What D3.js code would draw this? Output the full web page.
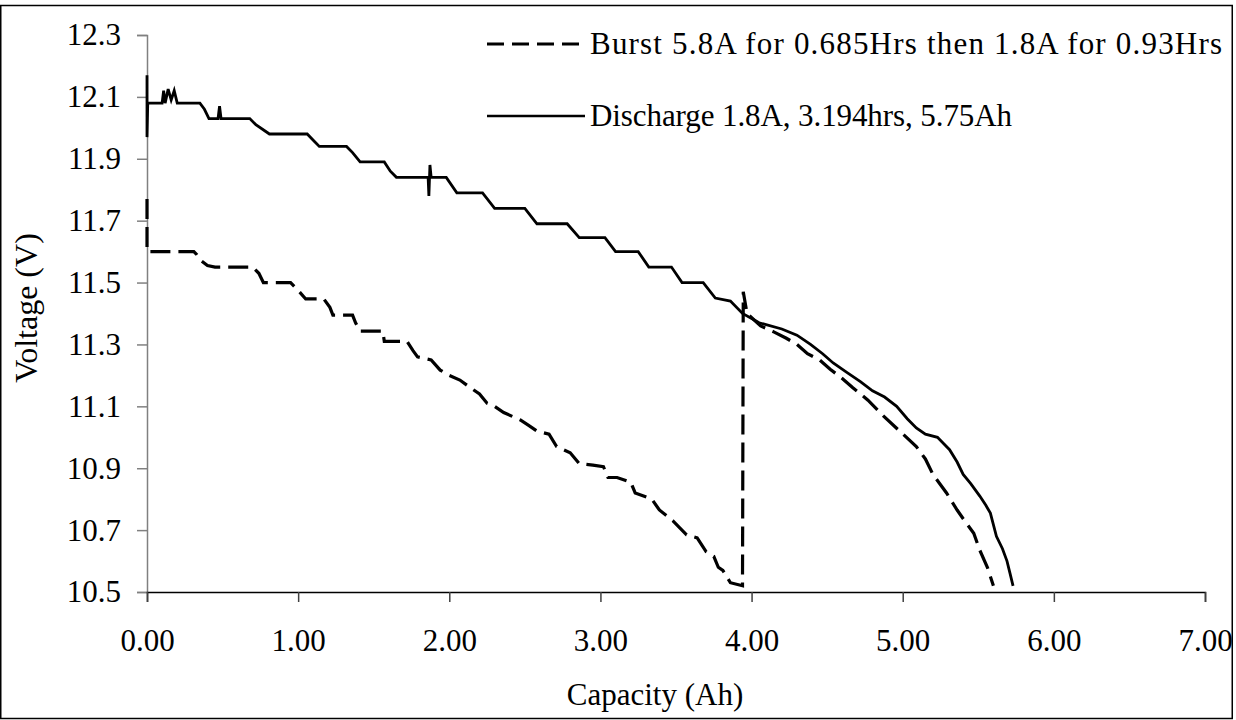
<!DOCTYPE html>
<html>
<head>
<meta charset="utf-8">
<script src="https://cdn.jsdelivr.net/npm/d3@7/dist/d3.min.js"></script>
<style>
  html, body { margin: 0; padding: 0; background: #fff; }
  svg { display: block; }
  text { font-family: "Liberation Serif", "Times New Roman", serif; fill: #000; }
</style>
</head>
<body>
<svg id="chart" width="1236" height="720"></svg>
<script>
// Tick values
const xTicks = [0, 1, 2, 3, 4, 5, 6, 7];
const yTicks = [10.5, 10.7, 10.9, 11.1, 11.3, 11.5, 11.7, 11.9, 12.1, 12.3];

// Series labels
const seriesNames = [
  "Burst 5.8A for 0.685Hrs then 1.8A for 0.93Hrs",
  "Discharge 1.8A, 3.194hrs, 5.75Ah"
];

// Burst test: capacity (Ah) and voltage (V)
const burstCap = [
  0, 0, 0.31, 0.33, 0.36, 0.40, 0.45, 0.70, 0.74, 0.77, 0.95, 0.99, 1.05, 1.17, 1.21, 1.23,
  1.36, 1.38, 1.41, 1.56, 1.57, 1.72, 1.76, 1.79, 1.88, 1.94, 2.00, 2.07, 2.14, 2.20, 2.25,
  2.30, 2.36, 2.47, 2.52, 2.58, 2.66, 2.71, 2.80, 2.86, 2.95, 3.02, 3.05, 3.11, 3.20, 3.23,
  3.34, 3.39, 3.48, 3.57, 3.64, 3.70, 3.75, 3.78, 3.81, 3.86, 3.94,
  3.945, 3.97, 4.06, 4.15, 4.23, 4.30, 4.37, 4.45, 4.52, 4.60, 4.67, 4.77, 4.87, 4.98,
  5.09, 5.15, 5.20, 5.29, 5.36, 5.41, 5.47, 5.51, 5.56, 5.60
];
const burstVolt = [
  11.77, 11.60, 11.60, 11.59, 11.57, 11.555, 11.55, 11.55, 11.53, 11.50, 11.50, 11.48, 11.447, 11.447, 11.42, 11.395,
  11.395, 11.37, 11.343, 11.343, 11.31, 11.31, 11.28, 11.26, 11.25, 11.217, 11.20, 11.185, 11.16, 11.14, 11.11,
  11.10, 11.08, 11.056, 11.04, 11.02, 11.01, 10.97, 10.95, 10.915, 10.91, 10.905, 10.87, 10.87, 10.855, 10.82,
  10.80, 10.765, 10.73, 10.685, 10.675, 10.63, 10.615, 10.58, 10.57, 10.53, 10.52,
  11.47, 11.40, 11.36, 11.34, 11.32, 11.30, 11.27, 11.25, 11.22, 11.19, 11.16, 11.12, 11.07, 11.02,
  10.97, 10.93, 10.88, 10.82, 10.765, 10.73, 10.69, 10.635, 10.58, 10.52
];

// Constant 1.8A discharge: capacity (Ah) and voltage (V)
const dischargeCap = [
  0, 0, 0, 0.005, 0.10, 0.11, 0.12, 0.14, 0.16, 0.18, 0.20, 0.35, 0.38, 0.41, 0.47, 0.48, 0.49,
  0.68, 0.72, 0.81, 1.06, 1.10, 1.14, 1.32, 1.36, 1.41, 1.57, 1.61, 1.65, 1.86, 1.865, 1.872,
  1.88, 1.98, 2.05, 2.22, 2.30, 2.50, 2.58, 2.78, 2.86, 3.03, 3.10, 3.25, 3.32, 3.47, 3.54,
  3.68, 3.76, 3.86, 3.94, 4.05, 4.20, 4.30, 4.39, 4.47, 4.54, 4.63, 4.72, 4.80, 4.88, 4.96,
  5.03, 5.09, 5.15, 5.23, 5.27, 5.31, 5.36, 5.40, 5.45, 5.51, 5.55, 5.58, 5.62, 5.66, 5.69,
  5.71, 5.73
];
const dischargeVolt = [
  12.08, 12.17, 11.97, 12.08, 12.08, 12.12, 12.08, 12.125, 12.09, 12.12, 12.08, 12.08, 12.06, 12.03, 12.03, 12.07, 12.03,
  12.03, 12.01, 11.98, 11.98, 11.96, 11.94, 11.94, 11.92, 11.89, 11.89, 11.86, 11.84, 11.84, 11.78, 11.88,
  11.84, 11.84, 11.79, 11.79, 11.74, 11.74, 11.69, 11.69, 11.645, 11.645, 11.60, 11.60, 11.55, 11.55, 11.50,
  11.50, 11.45, 11.44, 11.40, 11.37, 11.35, 11.33, 11.30, 11.27, 11.24, 11.21, 11.18, 11.15, 11.13, 11.10,
  11.06, 11.03, 11.01, 11.00, 10.98, 10.96, 10.92, 10.88, 10.85, 10.81, 10.78, 10.755, 10.68, 10.64, 10.60,
  10.56, 10.52
];

const svg = d3.select("#chart");
const plot = { left: 147, right: 1205, top: 35, bottom: 592 };

const x = d3.scaleLinear().domain([0, 7]).range([plot.left, plot.right]);
const y = d3.scaleLinear().domain([10.5, 12.3]).range([plot.bottom, plot.top]);

// Outer chart frame
svg.append("rect")
  .attr("x", 0.75).attr("y", 5.5)
  .attr("width", 1231.5).attr("height", 713)
  .attr("fill", "none").attr("stroke", "#000").attr("stroke-width", 1.5);

// Y axis
const yAxis = svg.append("g")
  .attr("transform", `translate(${plot.left},0)`)
  .call(d3.axisLeft(y).tickValues(yTicks).tickFormat(d3.format(".1f")).tickSize(10).tickPadding(16));
yAxis.select(".domain").attr("stroke", "#808080").attr("stroke-width", 1.5);
yAxis.selectAll(".tick line").attr("stroke", "#808080").attr("stroke-width", 1.5);
yAxis.selectAll(".tick text")
  .style("font-family", '"Liberation Serif", "Times New Roman", serif')
  .style("font-size", "31px").attr("fill", "#000");

// X axis
const xAxis = svg.append("g")
  .attr("transform", `translate(0,${plot.bottom})`)
  .call(d3.axisBottom(x).tickValues(xTicks).tickFormat(d3.format(".2f")).tickSize(10).tickPadding(27));
xAxis.select(".domain").attr("stroke", "#000").attr("stroke-width", 1.5);
xAxis.selectAll(".tick line").attr("stroke", "#404040").attr("stroke-width", 1.5);
xAxis.selectAll(".tick text")
  .style("font-family", '"Liberation Serif", "Times New Roman", serif')
  .style("font-size", "31px").attr("fill", "#000");

// Axis titles
svg.append("text")
  .attr("x", 655).attr("y", 705)
  .attr("text-anchor", "middle")
  .style("font-size", "31px")
  .text("Capacity (Ah)");

svg.append("text")
  .attr("transform", "translate(37,308) rotate(-90)")
  .attr("text-anchor", "middle")
  .style("font-size", "32px")
  .text("Voltage (V)");

// Curves
svg.append("clipPath").attr("id", "plotClip")
  .append("rect")
  .attr("x", plot.left - 2).attr("y", plot.top - 2)
  .attr("width", plot.right - plot.left + 4).attr("height", plot.bottom - plot.top + 2);

const line = d3.line().x(d => x(d[0])).y(d => y(d[1]));
const burstData = burstCap.map((c, i) => [c, burstVolt[i]]);
const dischargeData = dischargeCap.map((c, i) => [c, dischargeVolt[i]]);

const curves = svg.append("g").attr("clip-path", "url(#plotClip)");
curves.append("path")
  .datum(dischargeData)
  .attr("d", line)
  .attr("fill", "none").attr("stroke", "#000")
  .attr("stroke-width", 2.8).attr("stroke-linejoin", "miter");

curves.append("path")
  .datum(burstData)
  .attr("d", line)
  .attr("fill", "none").attr("stroke", "#000")
  .attr("stroke-width", 3.2).attr("stroke-dasharray", "20,8");

// Legend
const legend = svg.append("g");
const legendRows = [
  { name: seriesNames[0], dash: "17,8", width: 3, ly: 44, ty: 54, len: 632 },
  { name: seriesNames[1], dash: null, width: 2.6, ly: 116, ty: 126, len: 422 }
];
legendRows.forEach(r => {
  legend.append("line")
    .attr("x1", 487).attr("x2", 585)
    .attr("y1", r.ly).attr("y2", r.ly)
    .attr("stroke", "#000").attr("stroke-width", r.width)
    .attr("stroke-dasharray", r.dash);
  legend.append("text")
    .attr("x", 590).attr("y", r.ty)
    .style("font-size", "31px")
    .attr("textLength", r.len).attr("lengthAdjust", "spacing")
    .text(r.name);
});
</script>
</body>
</html>
